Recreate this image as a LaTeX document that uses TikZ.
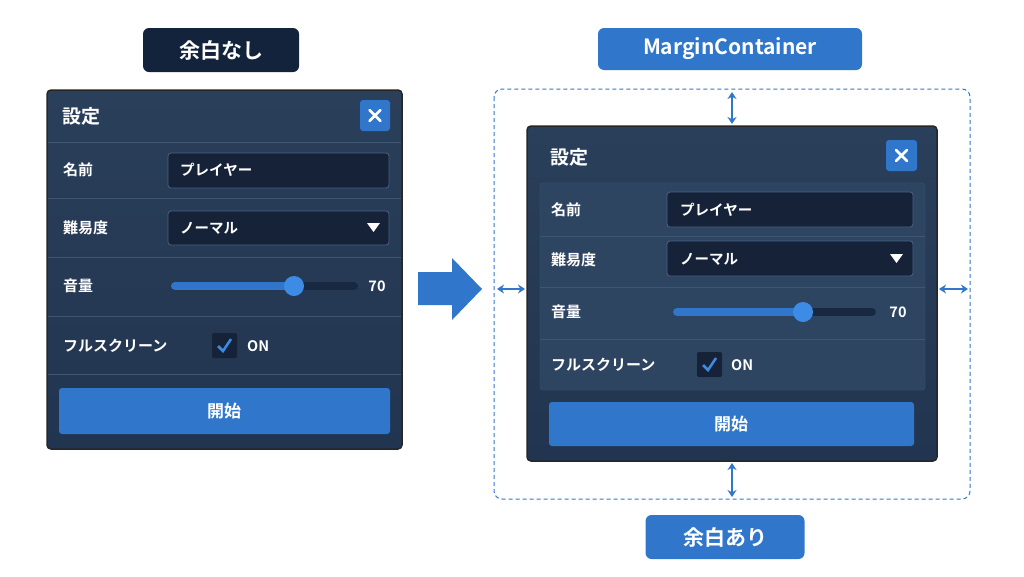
\documentclass[tikz,border=0pt]{standalone}
\usepackage{fontspec}
\setmainfont{Noto Sans CJK JP}[BoldFont={* Bold}]
\begin{document}
\begin{tikzpicture}[x=1pt,y=-1pt,
 panel/.style={draw=black!85,line width=1.5pt,rounded corners=4pt,top color=panelTop,bottom color=panelBot},
 sep/.style={draw=sepc,line width=1pt},
 lab/.style={text=white,font=\bfseries\fontsize{15}{16}\selectfont,anchor=west,inner sep=0pt},
 field/.style={draw=fieldB,fill=fieldF,rounded corners=3pt,line width=0.8pt},
 ftext/.style={text=white,font=\bfseries\fontsize{14.5}{16}\selectfont,anchor=west,inner sep=0pt},
 btn/.style={fill=blueB,rounded corners=3pt},
 tag/.style={rounded corners=6pt,text=white,font=\bfseries\fontsize{21}{24}\selectfont},
 xm/.style={white,line width=2.6pt,line cap=round},
 dim/.style={draw=blueB,line width=1.6pt,<->,>={Stealth[length=7pt,width=9pt]}}]
\definecolor{panelTop}{HTML}{2A3F5A}
\definecolor{panelBot}{HTML}{223550}
\definecolor{sepc}{HTML}{3E5573}
\definecolor{fieldB}{HTML}{4A6282}
\definecolor{fieldF}{HTML}{152238}
\definecolor{blueB}{HTML}{3077CC}
\definecolor{knob}{HTML}{3C8CE6}
\definecolor{track}{HTML}{182840}
\definecolor{grp}{HTML}{2E4562}
\definecolor{dark}{HTML}{13233B}
\usetikzlibrary{arrows.meta}
\useasboundingbox (0,0) rectangle (1024,576);
\fill[white] (0,0) rectangle (1024,576);
% tags
\node[tag,fill=dark,minimum width=156pt,minimum height=44pt] (t1) at (221,50) {余白なし};
\node[tag,fill=blueB,minimum width=264pt,minimum height=42pt] (t2) at (730,49) {MarginContainer};
\node[tag,fill=blueB,minimum width=159pt,minimum height=44pt] (t3) at (725,537) {余白あり};
% left panel
\path[panel] (47,90) rectangle (402,449);
\node[lab,font=\bfseries\fontsize{19}{20}\selectfont] (lt) at (62,116) {設定};
\fill[blueB,rounded corners=3pt] (360,100) rectangle (390,131);
\draw[xm] (369.5,110) -- (380.5,121) (369.5,121) -- (380.5,110);
\foreach \y in {142,198,257,316,374} \draw[sep] (48,\y) -- (401,\y);
\node[lab] (l1) at (63,170) {名前};
\node[lab] (l2) at (63,228) {難易度};
\node[lab] (l3) at (63,286) {音量};
\node[lab] (l4) at (63,346) {フルスクリーン};
\path[field] (168,153) rectangle (389,188);
\node[ftext] (lf1) at (180,170) {プレイヤー};
\path[field] (168,211) rectangle (389,245);
\node[ftext] (lf2) at (180,228) {ノーマル};
\fill[white] (367,223) -- (380,223) -- (373.5,232) -- cycle;
\draw[track,line width=8pt,line cap=round] (175,286) -- (354,286);
\draw[blueB,line width=8pt,line cap=round] (175,286) -- (294,286);
\fill[knob] (294,286) circle (10);
\node[ftext,anchor=center] (l70) at (377,286) {70};
\fill[fieldF,rounded corners=2pt] (212,333) rectangle (237,358);
\draw[knob,line width=2.5pt] (218,346) -- (223,351) -- (231,339);
\node[ftext] (lon) at (247,346) {ON};
\path[btn] (59,388) rectangle (390,434);
\node[text=white,font=\bfseries\fontsize{17}{18}\selectfont] (lb) at (224,411) {開始};
% big arrow
\fill[blueB] (418,272) -- (452,272) -- (452,258) -- (482,289) -- (452,320) -- (452,305) -- (418,305) -- cycle;
% right
\draw[blueB,line width=1pt,dash pattern=on 4pt off 3pt,rounded corners=8pt] (494,89) rectangle (970,499);
\path[panel] (527,126) rectangle (937,461);
\node[lab,font=\bfseries\fontsize{19}{20}\selectfont] (rt) at (550,157) {設定};
\fill[blueB,rounded corners=3pt] (886,140) rectangle (917,171);
\draw[xm] (896,150) -- (907,161) (896,161) -- (907,150);
\fill[grp,rounded corners=3pt] (540,183) rectangle (925,390);
\draw[sepc,rounded corners=3pt] (540,183) rectangle (925,390);
\foreach \y in {236,287,339} \draw[sep] (540,\y) -- (925,\y);
\node[lab] (r1) at (551,210) {名前};
\node[lab] (r2) at (551,260) {難易度};
\node[lab] (r3) at (551,312) {音量};
\node[lab] (r4) at (551,365) {フルスクリーン};
\path[field] (667,192) rectangle (913,227);
\node[ftext] (rf1) at (680,210) {プレイヤー};
\path[field] (667,241) rectangle (913,276);
\node[ftext] (rf2) at (680,259) {ノーマル};
\fill[white] (890,254) -- (903,254) -- (896.5,263) -- cycle;
\draw[track,line width=8pt,line cap=round] (677,312) -- (872,312);
\draw[blueB,line width=8pt,line cap=round] (677,312) -- (803,312);
\fill[knob] (803,312) circle (10);
\node[ftext,anchor=center] (r70) at (898,312) {70};
\fill[fieldF,rounded corners=2pt] (697,352) rectangle (722,377);
\draw[knob,line width=2.5pt] (703,365) -- (708,370) -- (716,358);
\node[ftext] (ron) at (731,365) {ON};
\path[btn] (549,402) rectangle (914,446);
\node[text=white,font=\bfseries\fontsize{17}{18}\selectfont] (rb) at (731,424) {開始};
\coordinate (a1) at (732,92); \coordinate (a2) at (732,124);
\coordinate (b1) at (732,463); \coordinate (b2) at (732,497);
\coordinate (c1) at (497,289); \coordinate (c2) at (525,289);
\coordinate (d1) at (939,289); \coordinate (d2) at (968,289);
\draw[dim] (a1) -- (a2); \draw[dim] (b1) -- (b2);
\draw[dim] (c1) -- (c2); \draw[dim] (d1) -- (d2);
\end{tikzpicture}
\end{document}
